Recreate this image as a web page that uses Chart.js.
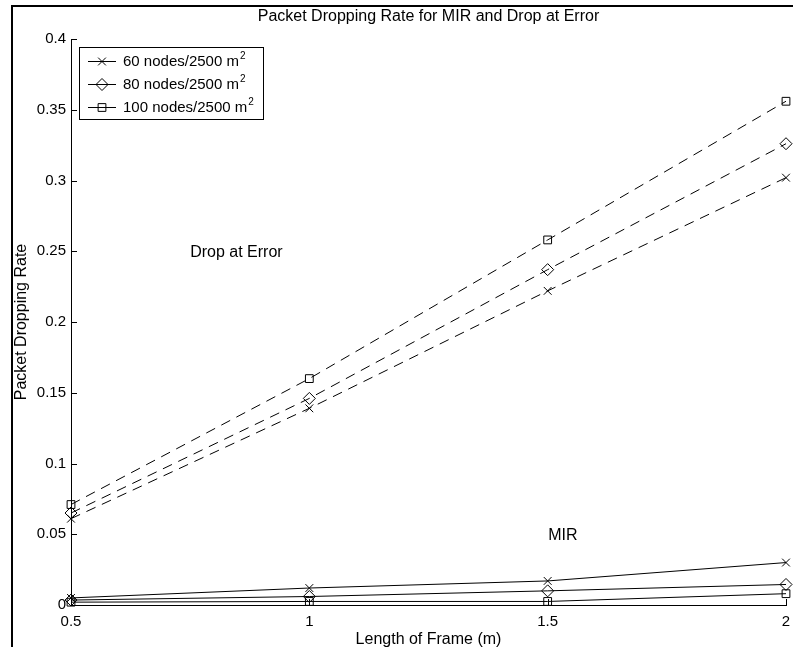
<!DOCTYPE html>
<html>
<head>
<meta charset="utf-8">
<title>Packet Dropping Rate for MIR and Drop at Error</title>
<script src="https://cdn.jsdelivr.net/npm/chart.js@4/dist/chart.umd.min.js"></script>
<style>
  html, body { margin: 0; padding: 0; background: #fff; }
  #wrap { position: relative; width: 793px; height: 647px; overflow: hidden; }
</style>
</head>
<body>
<div id="wrap"><canvas id="chart" width="793" height="647"></canvas></div>
<script>
// Frame length (m) on the x axis
const frameLengths = [0.5, 1, 1.5, 2];

// Drop at Error (dashed curves)
const dropAtError60 = [0.061, 0.139, 0.222, 0.302];
const dropAtError80 = [0.065, 0.146, 0.237, 0.326];
const dropAtError100 = [0.071, 0.160, 0.258, 0.356];

// MIR (solid curves)
const mir60 = [0.005, 0.012, 0.017, 0.030];
const mir80 = [0.0035, 0.006, 0.010, 0.0145];
const mir100 = [0.002, 0.0025, 0.0025, 0.008];

const seriesLabels = ['60 nodes/2500 m', '80 nodes/2500 m', '100 nodes/2500 m'];
const seriesMarkers = ['crossRot', 'rectRot', 'rect'];
const xTickLabels = ['0.5', '1', '1.5', '2'];
const yTickLabels = ['0', '0.05', '0.1', '0.15', '0.2', '0.25', '0.3', '0.35', '0.4'];

const FONT = "'Liberation Sans', Arial, Helvetica, sans-serif";

function points(values) {
  return values.map((v, i) => ({ x: frameLengths[i], y: v }));
}

function seriesSet(values, idx, dashed) {
  return {
    label: seriesLabels[idx],
    data: points(values),
    borderColor: '#000',
    backgroundColor: 'rgba(0,0,0,0)',
    borderWidth: 1,
    borderDash: dashed ? [10, 7] : [],
    pointStyle: seriesMarkers[idx],
    pointRadius: idx === 1 ? 6 : 5.5,
    pointBorderColor: '#000',
    pointBackgroundColor: 'rgba(0,0,0,0)',
    pointBorderWidth: 1,
    tension: 0,
    fill: false,
    clip: false
  };
}

function drawMarker(ctx, style, radius, x, y) {
  ctx.save();
  ctx.fillStyle = 'rgba(0,0,0,0)';
  ctx.strokeStyle = '#000';
  ctx.lineWidth = 1;
  ctx.setLineDash([]);
  if (Chart.helpers && Chart.helpers.drawPoint) {
    Chart.helpers.drawPoint(ctx, { pointStyle: style, radius: radius, borderWidth: 1, rotation: 0 }, x, y);
    ctx.restore();
    return;
  }
  ctx.beginPath();
  if (style === 'crossRot') {
    const d = radius * Math.SQRT1_2;
    ctx.moveTo(x - d, y - d); ctx.lineTo(x + d, y + d);
    ctx.moveTo(x - d, y + d); ctx.lineTo(x + d, y - d);
  } else if (style === 'rectRot') {
    ctx.moveTo(x - radius, y); ctx.lineTo(x, y - radius);
    ctx.lineTo(x + radius, y); ctx.lineTo(x, y + radius); ctx.closePath();
  } else {
    const s = radius * Math.SQRT1_2;
    ctx.rect(x - s, y - s, 2 * s, 2 * s);
  }
  ctx.stroke();
  ctx.restore();
}

// Figure frame, inward ticks, titles, curve annotations and the boxed legend
const decorations = {
  id: 'decorations',
  afterDraw(chart) {
    const { ctx, chartArea, scales } = chart;
    const xs = scales.x, ys = scales.y;
    ctx.save();

    // outer figure frame
    ctx.strokeStyle = '#000';
    ctx.lineWidth = 2;
    ctx.strokeRect(12, 6, 1000, 1000);

    // tick marks pointing into the plot
    ctx.lineWidth = 1;
    ctx.beginPath();
    ys.ticks.forEach(t => {
      const py = Math.round(ys.getPixelForValue(t.value)) + 0.5;
      ctx.moveTo(chartArea.left, py);
      ctx.lineTo(chartArea.left + 6, py);
    });
    xs.ticks.forEach(t => {
      const px = Math.round(xs.getPixelForValue(t.value)) + 0.5;
      ctx.moveTo(px, chartArea.bottom);
      ctx.lineTo(px, chartArea.bottom - 6);
    });
    ctx.stroke();

    ctx.fillStyle = '#000';
    ctx.textAlign = 'center';
    ctx.textBaseline = 'middle';
    const midX = (chartArea.left + chartArea.right) / 2;
    const midY = (chartArea.top + chartArea.bottom) / 2;

    ctx.font = '16px ' + FONT;
    ctx.fillText('Packet Dropping Rate for MIR and Drop at Error', midX, 17);
    ctx.fillText('Length of Frame (m)', midX, 640);

    ctx.save();
    ctx.translate(22, midY);
    ctx.rotate(-Math.PI / 2);
    ctx.fillText('Packet Dropping Rate', 0, 0);
    ctx.restore();

    // curve group annotations
    ctx.fillText('Drop at Error', xs.getPixelForValue(0.847), ys.getPixelForValue(0.249));
    ctx.fillText('MIR', xs.getPixelForValue(1.532), ys.getPixelForValue(0.049));

    // legend box
    const bx = 79.5, by = 47.5, bw = 184, bh = 72;
    ctx.fillStyle = '#fff';
    ctx.fillRect(bx, by, bw, bh);
    ctx.strokeStyle = '#000';
    ctx.lineWidth = 1;
    ctx.strokeRect(bx, by, bw, bh);

    const rowY = [61, 84, 107];
    const mirSets = chart.data.datasets.slice(3);
    mirSets.forEach((ds, i) => {
      const ry = rowY[i] + 0.5;
      ctx.strokeStyle = '#000';
      ctx.lineWidth = 1;
      ctx.setLineDash([]);
      ctx.beginPath();
      ctx.moveTo(88, ry);
      ctx.lineTo(116, ry);
      ctx.stroke();
      drawMarker(ctx, ds.pointStyle, ds.pointRadius, 102, ry);

      ctx.fillStyle = '#000';
      ctx.textAlign = 'left';
      ctx.textBaseline = 'middle';
      ctx.font = '15px ' + FONT;
      ctx.fillText(ds.label, 123, rowY[i] + 1);
      const w = ctx.measureText(ds.label).width;
      ctx.font = '10px ' + FONT;
      ctx.fillText('2', 123 + w + 1, rowY[i] - 5);
    });

    ctx.restore();
  }
};

new Chart(document.getElementById('chart'), {
  type: 'line',
  data: {
    datasets: [
      seriesSet(dropAtError60, 0, true),
      seriesSet(dropAtError80, 1, true),
      seriesSet(dropAtError100, 2, true),
      seriesSet(mir60, 0, false),
      seriesSet(mir80, 1, false),
      seriesSet(mir100, 2, false)
    ]
  },
  options: {
    responsive: false,
    animation: false,
    events: [],
    layout: { padding: { left: 0, top: 39, right: 1, bottom: 0 } },
    plugins: {
      legend: { display: false },
      title: { display: false },
      tooltip: { enabled: false }
    },
    scales: {
      x: {
        type: 'linear',
        min: 0.5,
        max: 2,
        ticks: {
          stepSize: 0.5,
          color: '#000',
          font: { family: FONT, size: 15 },
          padding: 8,
          maxRotation: 0,
          callback: (v, i) => xTickLabels[i]
        },
        grid: { display: false, drawTicks: false },
        border: { display: true, color: '#000', width: 1 },
        afterFit(s) { s.height = 42; s.paddingLeft = 0; s.paddingRight = 0; }
      },
      y: {
        type: 'linear',
        min: 0,
        max: 0.4,
        ticks: {
          stepSize: 0.05,
          color: '#000',
          font: { family: FONT, size: 15 },
          padding: 5,
          callback: (v, i) => yTickLabels[i]
        },
        grid: { display: false, drawTicks: false },
        border: { display: true, color: '#000', width: 1 },
        afterFit(s) { s.width = 71; s.paddingTop = 0; s.paddingBottom = 0; }
      }
    }
  },
  plugins: [decorations]
});
</script>
</body>
</html>
